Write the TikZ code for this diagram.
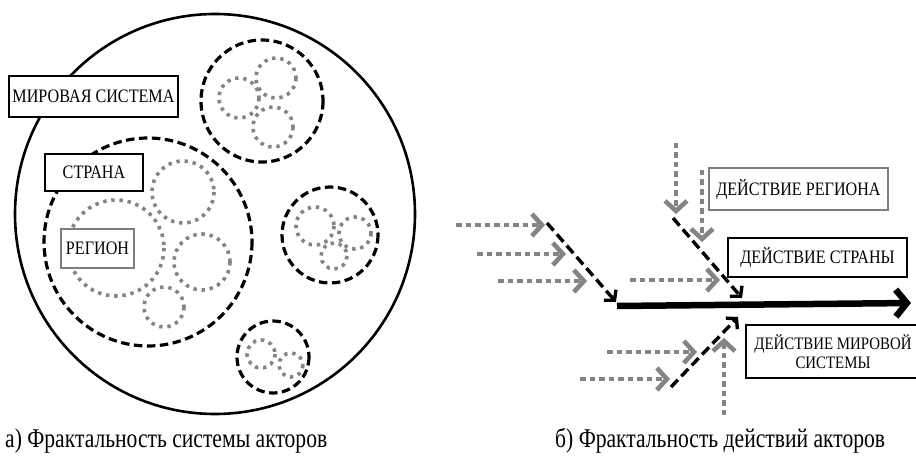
\documentclass[tikz,border=0pt]{standalone}
\usepackage{fontspec}
\setmainfont{Liberation Serif}[FakeStretch=0.85]
\newfontfamily\captfont{Liberation Serif}[FakeStretch=0.8]
\usetikzlibrary{arrows.meta}
\definecolor{dotgray}{RGB}{132,132,132}
\definecolor{boxgray}{RGB}{125,125,125}
\begin{document}
\begin{tikzpicture}[x=1pt,y=-1pt,
  solidc/.style={line width=2.6pt},
  dashc/.style={line width=3.2pt, dash pattern=on 8.5pt off 4.5pt},
  dotc/.style={line width=3.6pt, dash pattern=on 3.4pt off 4.8pt, draw=dotgray},
  lbl/.style={draw, line width=2.6pt, fill=white, inner sep=0pt,
    font=\fontsize{19}{19}\selectfont},
  glbl/.style={lbl, draw=boxgray},
  garrow/.style={draw=dotgray, line width=4.6pt, dash pattern=on 5.5pt off 4pt,
    -{Straight Barb[length=10pt,width=22pt]}},
  darrow/.style={line width=3.4pt, dash pattern=on 10pt off 5pt,
    -{Straight Barb[length=7pt,width=16pt]}},
  mainarrow/.style={line width=6.5pt, -{Straight Barb[length=11pt,width=27pt]}},
  capt/.style={font=\captfont\fontsize{27}{29}\selectfont, inner sep=0pt}
]
\useasboundingbox (0,0) rectangle (916,468);
\fill[white] (0,0) rectangle (916,468);
\clip (0,0) rectangle (916,468);

% ---------- left panel ----------
\draw[solidc] (215,214) circle[radius=200];
% country circles
\draw[dashc] (148,242) circle[radius=104];
\draw[dashc] (262,101) circle[radius=61];
\draw[dashc] (330,235) circle[radius=48];
\draw[dashc] (273,357) circle[radius=36];
% regions in big country
\draw[dotc] (183,192) circle[radius=31];
\draw[dotc] (116,248) circle[radius=48];
\draw[dotc] (202,262) circle[radius=28];
\draw[dotc] (164,307) circle[radius=20];
% regions upper right
\draw[dotc] (276,78) circle[radius=20];
\draw[dotc] (239,98) circle[radius=20];
\draw[dotc] (273,127) circle[radius=20];
% regions middle right
\draw[dotc] (315,226) circle[radius=19];
\draw[dotc] (355,233) circle[radius=16];
\draw[dotc] (334,256) circle[radius=13];
% regions bottom
\draw[dotc] (261,354) circle[radius=14];
\draw[dotc] (291,365) circle[radius=12];

\node[lbl, minimum width=169pt, minimum height=41pt] (ws) at (93.5,96.5) {МИРОВАЯ СИСТЕМА};
\node[lbl, minimum width=98pt, minimum height=37pt] (ctry) at (94,172.5) {СТРАНА};
\node[glbl, minimum width=73pt, minimum height=39pt] (reg) at (97.5,248.5) {РЕГИОН};

\node[capt, anchor=west] (capa) at (5,441) {а) Фрактальность системы акторов};

% ---------- right panel ----------
\coordinate (m0) at (617,306);
\coordinate (m1) at (911,303);
\draw[mainarrow] (m0) -- (m1);

% upper-left country action
\coordinate (a0) at (547,223);
\coordinate (a1) at (616,302);
\draw[darrow] (a0) -- (a1);
\coordinate (g1s) at (456,225); \coordinate (g1e) at (545,225);
\coordinate (g2s) at (477,254); \coordinate (g2e) at (566,254);
\coordinate (g3s) at (498,281); \coordinate (g3e) at (587,281);
\draw[garrow] (g1s) -- (g1e);
\draw[garrow] (g2s) -- (g2e);
\draw[garrow] (g3s) -- (g3e);

% upper-right country action
\coordinate (b0) at (673,218);
\coordinate (b1) at (742,298);
\draw[darrow] (b0) -- (b1);
\coordinate (g4s) at (676,143); \coordinate (g4e) at (676,214);
\coordinate (g5s) at (702,170); \coordinate (g5e) at (702,242);
\coordinate (g6s) at (630,280); \coordinate (g6e) at (720,280);
\draw[garrow] (g4s) -- (g4e);
\draw[garrow] (g5s) -- (g5e);
\draw[garrow] (g6s) -- (g6e);

% lower country action
\coordinate (c0) at (671,387);
\coordinate (c1) at (738,317);
\draw[darrow] (c0) -- (c1);
\coordinate (g7s) at (607,352); \coordinate (g7e) at (697,352);
\coordinate (g8s) at (580,379); \coordinate (g8e) at (670,379);
\coordinate (g9s) at (724,415); \coordinate (g9e) at (724,338);
\draw[garrow] (g7s) -- (g7e);
\draw[garrow] (g8s) -- (g8e);
\draw[garrow] (g9s) -- (g9e);

\node[glbl, minimum width=179pt, minimum height=42pt] (dreg) at (798.5,189) {ДЕЙСТВИЕ РЕГИОНА};
\node[lbl, minimum width=179pt, minimum height=39pt] (dctry) at (817.5,257.5) {ДЕЙСТВИЕ СТРАНЫ};
\node[lbl, minimum width=174pt, minimum height=53pt, align=center,
  font=\fontsize{17.5}{18}\selectfont] (dws) at (833,351.5) {ДЕЙСТВИЕ МИРОВОЙ\\[1pt]СИСТЕМЫ};

\node[capt, anchor=west] (capb) at (555,441) {б) Фрактальность действий акторов};
\end{tikzpicture}
\end{document}
